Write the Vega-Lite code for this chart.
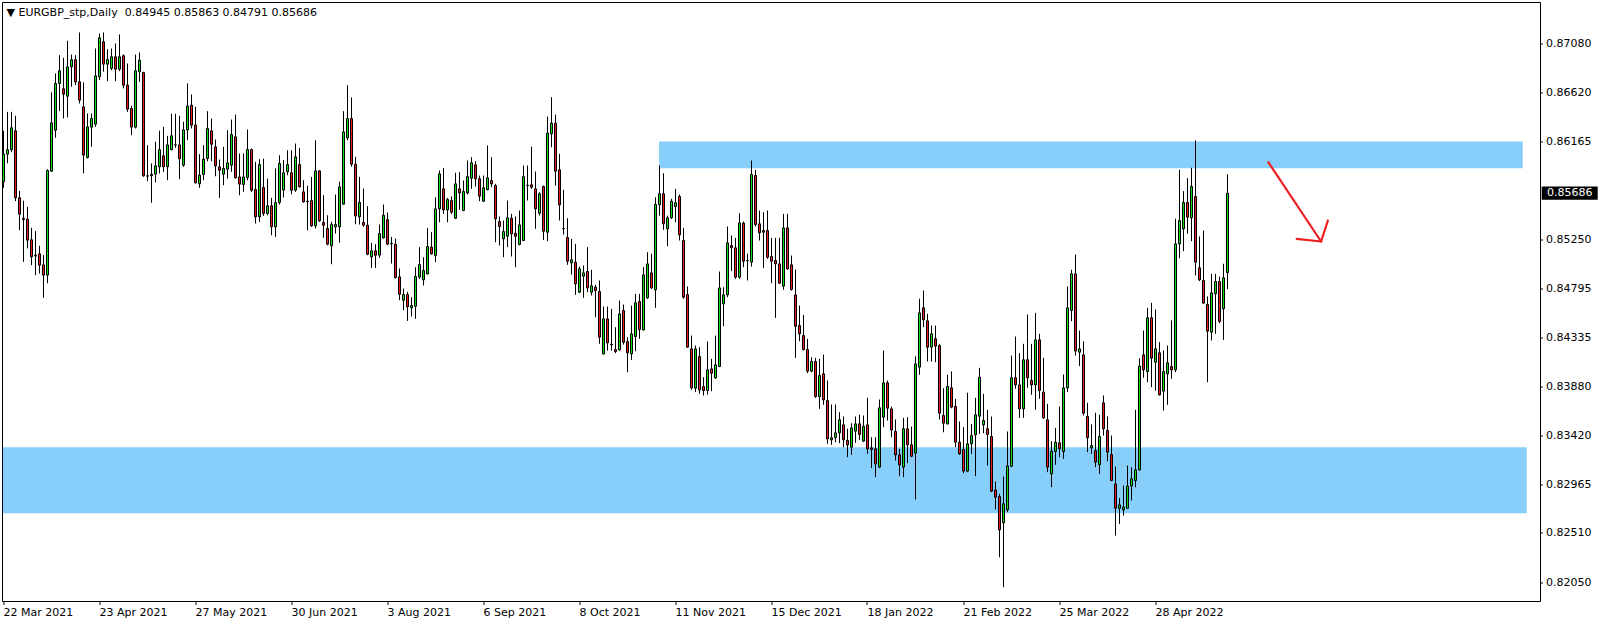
{
"$schema":"https://vega.github.io/schema/vega-lite/v6.json",
"width":1538,"height":599,
"autosize":{"type":"none"},
"padding":{"left":2,"top":2,"right":64,"bottom":24},
"background":"white",
"title":{"text":"▼  EURGBP_stp,Daily \u00a00.84945 0.85863 0.84791 0.85686","anchor":"start","frame":"group","orient":"top","offset":-10,"dy":12,"baseline":"middle","dx":4.5,"font":"DejaVu Sans","fontSize":11,"fontWeight":"normal","color":"black"},
"config":{"view":{"stroke":"black","strokeWidth":1},"axis":{"grid":false,"domain":false},"scale":{"continuousPadding":0}},
"datasets":{
"zones":[{"x":-0.125,"x2":380.8,"y":0.83315,"y2":0.827},{"x":163.9,"x2":379.8,"y":0.86168,"y2":0.85919}],
"arrow":[{"g":"s","k":0,"i":316.2,"p":0.85975},{"g":"s","k":1,"i":329.4,"p":0.85235},{"g":"h","k":0,"i":323.3,"p":0.85260},{"g":"h","k":1,"i":329.4,"p":0.85235},{"g":"h","k":2,"i":331.1,"p":0.85431}],
"tag":[{"x":384.55,"x2":398.55,"y":0.85748,"y2":0.85624,"tx":385.9,"p":0.85686}],
"candles":[
{"i":0,"o":0.85792,"h":0.86268,"l":0.85736,"c":0.86050},
{"i":1,"o":0.86050,"h":0.86445,"l":0.85966,"c":0.86091},
{"i":2,"o":0.86091,"h":0.86445,"l":0.86069,"c":0.86296},
{"i":3,"o":0.86268,"h":0.86408,"l":0.85612,"c":0.85643},
{"i":4,"o":0.85643,"h":0.85708,"l":0.85341,"c":0.85490},
{"i":5,"o":0.85450,"h":0.85615,"l":0.85045,"c":0.85440},
{"i":6,"o":0.85444,"h":0.85559,"l":0.85170,"c":0.85248},
{"i":7,"o":0.85251,"h":0.85363,"l":0.85014,"c":0.85092},
{"i":8,"o":0.85100,"h":0.85332,"l":0.84921,"c":0.85108},
{"i":9,"o":0.85120,"h":0.85195,"l":0.84936,"c":0.85014},
{"i":10,"o":0.85017,"h":0.85108,"l":0.84709,"c":0.84921},
{"i":11,"o":0.84921,"h":0.85907,"l":0.84846,"c":0.85898},
{"i":12,"o":0.85891,"h":0.86626,"l":0.85885,"c":0.86343},
{"i":13,"o":0.86274,"h":0.86803,"l":0.86203,"c":0.86710},
{"i":14,"o":0.86710,"h":0.86974,"l":0.86451,"c":0.86828},
{"i":15,"o":0.86660,"h":0.86949,"l":0.86383,"c":0.86610},
{"i":16,"o":0.86591,"h":0.87108,"l":0.86392,"c":0.86865},
{"i":17,"o":0.86865,"h":0.86980,"l":0.86679,"c":0.86931},
{"i":18,"o":0.86931,"h":0.86974,"l":0.86694,"c":0.86725},
{"i":19,"o":0.86725,"h":0.87186,"l":0.86523,"c":0.86554},
{"i":20,"o":0.86492,"h":0.86719,"l":0.85870,"c":0.86041},
{"i":21,"o":0.86019,"h":0.86430,"l":0.86010,"c":0.86305},
{"i":22,"o":0.86302,"h":0.86430,"l":0.86119,"c":0.86383},
{"i":23,"o":0.86330,"h":0.87036,"l":0.86305,"c":0.86781},
{"i":24,"o":0.86772,"h":0.87176,"l":0.86741,"c":0.87136},
{"i":25,"o":0.87099,"h":0.87186,"l":0.86819,"c":0.86890},
{"i":26,"o":0.86890,"h":0.87030,"l":0.86731,"c":0.86934},
{"i":27,"o":0.86850,"h":0.87036,"l":0.86834,"c":0.86959},
{"i":28,"o":0.86959,"h":0.87083,"l":0.86731,"c":0.86843},
{"i":29,"o":0.86843,"h":0.87167,"l":0.86825,"c":0.86959},
{"i":30,"o":0.86968,"h":0.86980,"l":0.86663,"c":0.86694},
{"i":31,"o":0.86694,"h":0.86896,"l":0.86445,"c":0.86470},
{"i":32,"o":0.86476,"h":0.86501,"l":0.86227,"c":0.86302},
{"i":33,"o":0.86302,"h":0.86980,"l":0.86290,"c":0.86828},
{"i":34,"o":0.86819,"h":0.86999,"l":0.86725,"c":0.86927},
{"i":35,"o":0.86812,"h":0.86819,"l":0.85839,"c":0.85848},
{"i":36,"o":0.85848,"h":0.86134,"l":0.85798,"c":0.85845},
{"i":37,"o":0.85850,"h":0.85963,"l":0.85596,"c":0.85863},
{"i":38,"o":0.85863,"h":0.86165,"l":0.85786,"c":0.85941},
{"i":39,"o":0.85932,"h":0.86268,"l":0.85870,"c":0.86091},
{"i":40,"o":0.86035,"h":0.86305,"l":0.85885,"c":0.85932},
{"i":41,"o":0.85932,"h":0.86221,"l":0.85807,"c":0.86137},
{"i":42,"o":0.86091,"h":0.86427,"l":0.86088,"c":0.86221},
{"i":43,"o":0.86135,"h":0.86427,"l":0.86109,"c":0.86137},
{"i":44,"o":0.86137,"h":0.86408,"l":0.85817,"c":0.86007},
{"i":45,"o":0.85947,"h":0.86352,"l":0.85932,"c":0.86277},
{"i":46,"o":0.86277,"h":0.86710,"l":0.86181,"c":0.86498},
{"i":47,"o":0.86507,"h":0.86607,"l":0.86290,"c":0.86321},
{"i":48,"o":0.86321,"h":0.86492,"l":0.85776,"c":0.85783},
{"i":49,"o":0.85773,"h":0.86050,"l":0.85736,"c":0.85854},
{"i":50,"o":0.85860,"h":0.86134,"l":0.85807,"c":0.86003},
{"i":51,"o":0.86009,"h":0.86451,"l":0.85984,"c":0.86289},
{"i":52,"o":0.86268,"h":0.86383,"l":0.85984,"c":0.86143},
{"i":53,"o":0.86118,"h":0.86187,"l":0.85844,"c":0.85941},
{"i":54,"o":0.85932,"h":0.86000,"l":0.85642,"c":0.85900},
{"i":55,"o":0.85863,"h":0.86118,"l":0.85760,"c":0.85916},
{"i":56,"o":0.85910,"h":0.86274,"l":0.85823,"c":0.85969},
{"i":57,"o":0.85947,"h":0.86373,"l":0.85885,"c":0.86233},
{"i":58,"o":0.86212,"h":0.86420,"l":0.85823,"c":0.85829},
{"i":59,"o":0.85838,"h":0.86056,"l":0.85667,"c":0.85770},
{"i":60,"o":0.85767,"h":0.86056,"l":0.85698,"c":0.85838},
{"i":61,"o":0.85832,"h":0.86280,"l":0.85807,"c":0.86093},
{"i":62,"o":0.86093,"h":0.86103,"l":0.85698,"c":0.85714},
{"i":63,"o":0.85720,"h":0.85978,"l":0.85403,"c":0.85465},
{"i":64,"o":0.85465,"h":0.86003,"l":0.85418,"c":0.85953},
{"i":65,"o":0.85739,"h":0.86009,"l":0.85474,"c":0.85496},
{"i":66,"o":0.85496,"h":0.85823,"l":0.85480,"c":0.85568},
{"i":67,"o":0.85568,"h":0.85642,"l":0.85294,"c":0.85372},
{"i":68,"o":0.85372,"h":0.85916,"l":0.85278,"c":0.85599},
{"i":69,"o":0.85599,"h":0.86040,"l":0.85580,"c":0.85963},
{"i":70,"o":0.85714,"h":0.85994,"l":0.85645,"c":0.85876},
{"i":71,"o":0.85885,"h":0.86087,"l":0.85854,"c":0.85953},
{"i":72,"o":0.85876,"h":0.86087,"l":0.85676,"c":0.85714},
{"i":73,"o":0.85714,"h":0.86149,"l":0.85698,"c":0.86025},
{"i":74,"o":0.85953,"h":0.86109,"l":0.85739,"c":0.85745},
{"i":75,"o":0.85698,"h":0.85807,"l":0.85599,"c":0.85605},
{"i":76,"o":0.85608,"h":0.85754,"l":0.85340,"c":0.85611},
{"i":77,"o":0.85617,"h":0.85838,"l":0.85372,"c":0.85381},
{"i":78,"o":0.85381,"h":0.86180,"l":0.85356,"c":0.85894},
{"i":79,"o":0.85894,"h":0.85900,"l":0.85418,"c":0.85428},
{"i":80,"o":0.85412,"h":0.85667,"l":0.85269,"c":0.85387},
{"i":81,"o":0.85356,"h":0.85480,"l":0.85200,"c":0.85210},
{"i":82,"o":0.85194,"h":0.85418,"l":0.85023,"c":0.85393},
{"i":83,"o":0.85372,"h":0.85673,"l":0.85309,"c":0.85393},
{"i":84,"o":0.85372,"h":0.85792,"l":0.85225,"c":0.85745},
{"i":85,"o":0.85583,"h":0.86451,"l":0.85580,"c":0.86258},
{"i":86,"o":0.86202,"h":0.86694,"l":0.86180,"c":0.86383},
{"i":87,"o":0.86383,"h":0.86579,"l":0.85932,"c":0.85956},
{"i":88,"o":0.85956,"h":0.86025,"l":0.85396,"c":0.85474},
{"i":89,"o":0.85465,"h":0.85838,"l":0.85393,"c":0.85599},
{"i":90,"o":0.85412,"h":0.85729,"l":0.85372,"c":0.85387},
{"i":91,"o":0.85387,"h":0.85564,"l":0.85107,"c":0.85116},
{"i":92,"o":0.85092,"h":0.85222,"l":0.84989,"c":0.85148},
{"i":93,"o":0.85148,"h":0.85210,"l":0.84989,"c":0.85107},
{"i":94,"o":0.85107,"h":0.85393,"l":0.85082,"c":0.85309},
{"i":95,"o":0.85269,"h":0.85580,"l":0.85263,"c":0.85480},
{"i":96,"o":0.85440,"h":0.85505,"l":0.85200,"c":0.85210},
{"i":97,"o":0.85213,"h":0.85278,"l":0.85029,"c":0.85216},
{"i":98,"o":0.85210,"h":0.85263,"l":0.84889,"c":0.84899},
{"i":99,"o":0.84905,"h":0.84983,"l":0.84687,"c":0.84743},
{"i":100,"o":0.84687,"h":0.84796,"l":0.84594,"c":0.84740},
{"i":101,"o":0.84740,"h":0.84765,"l":0.84494,"c":0.84626},
{"i":102,"o":0.84616,"h":0.84715,"l":0.84535,"c":0.84637},
{"i":103,"o":0.84631,"h":0.84995,"l":0.84513,"c":0.84908},
{"i":104,"o":0.84902,"h":0.85182,"l":0.84886,"c":0.85020},
{"i":105,"o":0.84877,"h":0.85088,"l":0.84824,"c":0.84964},
{"i":106,"o":0.84933,"h":0.85362,"l":0.84927,"c":0.85188},
{"i":107,"o":0.85182,"h":0.85322,"l":0.85113,"c":0.85120},
{"i":108,"o":0.85104,"h":0.85648,"l":0.85042,"c":0.85540},
{"i":109,"o":0.85540,"h":0.85897,"l":0.85415,"c":0.85866},
{"i":110,"o":0.85726,"h":0.85922,"l":0.85493,"c":0.85530},
{"i":111,"o":0.85530,"h":0.85642,"l":0.85415,"c":0.85627},
{"i":112,"o":0.85617,"h":0.85655,"l":0.85493,"c":0.85508},
{"i":113,"o":0.85452,"h":0.85876,"l":0.85446,"c":0.85773},
{"i":114,"o":0.85726,"h":0.85882,"l":0.85530,"c":0.85689},
{"i":115,"o":0.85524,"h":0.85804,"l":0.85518,"c":0.85701},
{"i":116,"o":0.85689,"h":0.85991,"l":0.85673,"c":0.85841},
{"i":117,"o":0.85826,"h":0.86022,"l":0.85726,"c":0.85969},
{"i":118,"o":0.85950,"h":0.85984,"l":0.85748,"c":0.85820},
{"i":119,"o":0.85820,"h":0.85851,"l":0.85611,"c":0.85658},
{"i":120,"o":0.85611,"h":0.85851,"l":0.85602,"c":0.85736},
{"i":121,"o":0.85720,"h":0.86131,"l":0.85711,"c":0.85829},
{"i":122,"o":0.85804,"h":0.86022,"l":0.85742,"c":0.85773},
{"i":123,"o":0.85757,"h":0.85773,"l":0.85228,"c":0.85446},
{"i":124,"o":0.85421,"h":0.85468,"l":0.85197,"c":0.85375},
{"i":125,"o":0.85260,"h":0.85431,"l":0.85088,"c":0.85328},
{"i":126,"o":0.85284,"h":0.85617,"l":0.85182,"c":0.85456},
{"i":127,"o":0.85452,"h":0.85493,"l":0.85095,"c":0.85306},
{"i":128,"o":0.85312,"h":0.85468,"l":0.84995,"c":0.85284},
{"i":129,"o":0.85207,"h":0.85524,"l":0.85200,"c":0.85390},
{"i":130,"o":0.85244,"h":0.85944,"l":0.85238,"c":0.85841},
{"i":131,"o":0.85760,"h":0.85944,"l":0.85617,"c":0.85757},
{"i":132,"o":0.85764,"h":0.86121,"l":0.85726,"c":0.85742},
{"i":133,"o":0.85726,"h":0.85888,"l":0.85353,"c":0.85540},
{"i":134,"o":0.85499,"h":0.85695,"l":0.85477,"c":0.85680},
{"i":135,"o":0.85748,"h":0.85757,"l":0.85250,"c":0.85331},
{"i":136,"o":0.85322,"h":0.86401,"l":0.85238,"c":0.86246},
{"i":137,"o":0.86240,"h":0.86582,"l":0.86115,"c":0.86339},
{"i":138,"o":0.86339,"h":0.86420,"l":0.85757,"c":0.85891},
{"i":139,"o":0.85904,"h":0.86053,"l":0.85431,"c":0.85577},
{"i":140,"o":0.85355,"h":0.85717,"l":0.85300,"c":0.85353},
{"i":141,"o":0.85272,"h":0.85452,"l":0.85017,"c":0.85051},
{"i":142,"o":0.85036,"h":0.85260,"l":0.84927,"c":0.85064},
{"i":143,"o":0.85042,"h":0.85213,"l":0.84737,"c":0.84840},
{"i":144,"o":0.84762,"h":0.85001,"l":0.84753,"c":0.84980},
{"i":145,"o":0.84911,"h":0.85011,"l":0.84709,"c":0.84942},
{"i":146,"o":0.84955,"h":0.85182,"l":0.84762,"c":0.84802},
{"i":147,"o":0.84762,"h":0.84970,"l":0.84731,"c":0.84821},
{"i":148,"o":0.84809,"h":0.84830,"l":0.84529,"c":0.84777},
{"i":149,"o":0.84768,"h":0.84871,"l":0.84280,"c":0.84342},
{"i":150,"o":0.84186,"h":0.84628,"l":0.84180,"c":0.84513},
{"i":151,"o":0.84513,"h":0.84628,"l":0.84217,"c":0.84289},
{"i":152,"o":0.84275,"h":0.84606,"l":0.84217,"c":0.84270},
{"i":153,"o":0.84227,"h":0.84435,"l":0.84193,"c":0.84208},
{"i":154,"o":0.84224,"h":0.84684,"l":0.84217,"c":0.84560},
{"i":155,"o":0.84591,"h":0.84647,"l":0.84273,"c":0.84295},
{"i":156,"o":0.84301,"h":0.84342,"l":0.84015,"c":0.84196},
{"i":157,"o":0.84186,"h":0.84637,"l":0.84130,"c":0.84373},
{"i":158,"o":0.84348,"h":0.84746,"l":0.84211,"c":0.84662},
{"i":159,"o":0.84675,"h":0.84746,"l":0.84326,"c":0.84413},
{"i":160,"o":0.84410,"h":0.84995,"l":0.84404,"c":0.84924},
{"i":161,"o":0.84709,"h":0.85135,"l":0.84700,"c":0.85026},
{"i":162,"o":0.84942,"h":0.85120,"l":0.84793,"c":0.84802},
{"i":163,"o":0.84784,"h":0.85648,"l":0.84616,"c":0.85580},
{"i":164,"o":0.85577,"h":0.85944,"l":0.85477,"c":0.85680},
{"i":165,"o":0.85680,"h":0.85872,"l":0.85344,"c":0.85400},
{"i":166,"o":0.85353,"h":0.85477,"l":0.85191,"c":0.85456},
{"i":167,"o":0.85456,"h":0.85633,"l":0.85446,"c":0.85611},
{"i":168,"o":0.85561,"h":0.85726,"l":0.85415,"c":0.85596},
{"i":169,"o":0.85655,"h":0.85673,"l":0.85244,"c":0.85297},
{"i":170,"o":0.85244,"h":0.85362,"l":0.84700,"c":0.84715},
{"i":171,"o":0.84740,"h":0.84815,"l":0.84242,"c":0.84249},
{"i":172,"o":0.84233,"h":0.84357,"l":0.83850,"c":0.83869},
{"i":173,"o":0.83866,"h":0.84264,"l":0.83829,"c":0.84233},
{"i":174,"o":0.84161,"h":0.84249,"l":0.83813,"c":0.83850},
{"i":175,"o":0.83881,"h":0.83969,"l":0.83797,"c":0.83844},
{"i":176,"o":0.83844,"h":0.84301,"l":0.83807,"c":0.84037},
{"i":177,"o":0.84046,"h":0.84140,"l":0.83838,"c":0.84006},
{"i":178,"o":0.83962,"h":0.84357,"l":0.83953,"c":0.84084},
{"i":179,"o":0.84068,"h":0.84955,"l":0.84062,"c":0.84802},
{"i":180,"o":0.84653,"h":0.84808,"l":0.84444,"c":0.84737},
{"i":181,"o":0.84737,"h":0.85375,"l":0.84715,"c":0.85222},
{"i":182,"o":0.85197,"h":0.85291,"l":0.84958,"c":0.85176},
{"i":183,"o":0.85176,"h":0.85269,"l":0.84886,"c":0.84902},
{"i":184,"o":0.84902,"h":0.85499,"l":0.84886,"c":0.85409},
{"i":185,"o":0.85406,"h":0.85421,"l":0.84995,"c":0.85051},
{"i":186,"o":0.85055,"h":0.85120,"l":0.84871,"c":0.85057},
{"i":187,"o":0.85042,"h":0.85991,"l":0.85001,"c":0.85860},
{"i":188,"o":0.85851,"h":0.85904,"l":0.85375,"c":0.85393},
{"i":189,"o":0.85400,"h":0.85524,"l":0.85244,"c":0.85316},
{"i":190,"o":0.85337,"h":0.85508,"l":0.84986,"c":0.85322},
{"i":191,"o":0.85337,"h":0.85524,"l":0.85073,"c":0.85088},
{"i":192,"o":0.85095,"h":0.85269,"l":0.84846,"c":0.85051},
{"i":193,"o":0.85057,"h":0.85269,"l":0.84522,"c":0.85026},
{"i":194,"o":0.85026,"h":0.85269,"l":0.84840,"c":0.84846},
{"i":195,"o":0.84818,"h":0.85493,"l":0.84784,"c":0.85362},
{"i":196,"o":0.85362,"h":0.85493,"l":0.84970,"c":0.84980},
{"i":197,"o":0.85017,"h":0.85104,"l":0.84777,"c":0.84787},
{"i":198,"o":0.84737,"h":0.84973,"l":0.84149,"c":0.84444},
{"i":199,"o":0.84451,"h":0.84637,"l":0.84305,"c":0.84373},
{"i":200,"o":0.84357,"h":0.84550,"l":0.84217,"c":0.84227},
{"i":201,"o":0.84227,"h":0.84326,"l":0.84006,"c":0.84025},
{"i":202,"o":0.84025,"h":0.84155,"l":0.84015,"c":0.84115},
{"i":203,"o":0.84115,"h":0.84149,"l":0.83776,"c":0.83788},
{"i":204,"o":0.83788,"h":0.84140,"l":0.83673,"c":0.83984},
{"i":205,"o":0.84000,"h":0.84180,"l":0.83711,"c":0.83757},
{"i":206,"o":0.83751,"h":0.83938,"l":0.83347,"c":0.83393},
{"i":207,"o":0.83384,"h":0.83714,"l":0.83337,"c":0.83403},
{"i":208,"o":0.83403,"h":0.83714,"l":0.83362,"c":0.83449},
{"i":209,"o":0.83449,"h":0.83642,"l":0.83353,"c":0.83571},
{"i":210,"o":0.83524,"h":0.83602,"l":0.83315,"c":0.83384},
{"i":211,"o":0.83378,"h":0.83487,"l":0.83222,"c":0.83337},
{"i":212,"o":0.83315,"h":0.83539,"l":0.83244,"c":0.83496},
{"i":213,"o":0.83465,"h":0.83602,"l":0.83356,"c":0.83533},
{"i":214,"o":0.83533,"h":0.83620,"l":0.83384,"c":0.83434},
{"i":215,"o":0.83372,"h":0.83611,"l":0.83362,"c":0.83511},
{"i":216,"o":0.83524,"h":0.83776,"l":0.83253,"c":0.83300},
{"i":217,"o":0.83309,"h":0.83409,"l":0.83120,"c":0.83294},
{"i":218,"o":0.83300,"h":0.83409,"l":0.83036,"c":0.83160},
{"i":219,"o":0.83129,"h":0.83760,"l":0.83123,"c":0.83683},
{"i":220,"o":0.83595,"h":0.84218,"l":0.83502,"c":0.83916},
{"i":221,"o":0.83916,"h":0.83938,"l":0.83564,"c":0.83679},
{"i":222,"o":0.83673,"h":0.83695,"l":0.83409,"c":0.83477},
{"i":223,"o":0.83462,"h":0.83574,"l":0.83191,"c":0.83244},
{"i":224,"o":0.83244,"h":0.83300,"l":0.83045,"c":0.83151},
{"i":225,"o":0.83129,"h":0.83589,"l":0.83036,"c":0.83487},
{"i":226,"o":0.83487,"h":0.83595,"l":0.83166,"c":0.83337},
{"i":227,"o":0.83337,"h":0.83508,"l":0.83222,"c":0.83231},
{"i":228,"o":0.83260,"h":0.84162,"l":0.82827,"c":0.84093},
{"i":229,"o":0.84062,"h":0.84700,"l":0.83991,"c":0.84569},
{"i":230,"o":0.84616,"h":0.84778,"l":0.84435,"c":0.84504},
{"i":231,"o":0.84495,"h":0.84560,"l":0.84115,"c":0.84249},
{"i":232,"o":0.84249,"h":0.84451,"l":0.84115,"c":0.84373},
{"i":233,"o":0.84327,"h":0.84451,"l":0.84109,"c":0.84258},
{"i":234,"o":0.84264,"h":0.84280,"l":0.83574,"c":0.83633},
{"i":235,"o":0.83611,"h":0.83866,"l":0.83455,"c":0.83539},
{"i":236,"o":0.83533,"h":0.83991,"l":0.83527,"c":0.83882},
{"i":237,"o":0.83869,"h":0.84022,"l":0.83679,"c":0.83689},
{"i":238,"o":0.83695,"h":0.83767,"l":0.83315,"c":0.83362},
{"i":239,"o":0.83362,"h":0.83555,"l":0.83244,"c":0.83253},
{"i":240,"o":0.83294,"h":0.83502,"l":0.83073,"c":0.83092},
{"i":241,"o":0.83092,"h":0.83823,"l":0.83082,"c":0.83347},
{"i":242,"o":0.83347,"h":0.83533,"l":0.83253,"c":0.83424},
{"i":243,"o":0.83431,"h":0.83776,"l":0.83045,"c":0.83617},
{"i":244,"o":0.83605,"h":0.84056,"l":0.83440,"c":0.83969},
{"i":245,"o":0.83524,"h":0.83813,"l":0.83446,"c":0.83564},
{"i":246,"o":0.83487,"h":0.83664,"l":0.83144,"c":0.83434},
{"i":247,"o":0.83415,"h":0.83602,"l":0.82896,"c":0.82905},
{"i":248,"o":0.82917,"h":0.82995,"l":0.82734,"c":0.82849},
{"i":249,"o":0.82855,"h":0.82880,"l":0.82289,"c":0.82544},
{"i":250,"o":0.82609,"h":0.83042,"l":0.82009,"c":0.82787},
{"i":251,"o":0.82731,"h":0.83462,"l":0.82709,"c":0.83141},
{"i":252,"o":0.83138,"h":0.84171,"l":0.83129,"c":0.83963},
{"i":253,"o":0.83963,"h":0.84348,"l":0.83860,"c":0.83897},
{"i":254,"o":0.83897,"h":0.84193,"l":0.83589,"c":0.83673},
{"i":255,"o":0.83673,"h":0.84280,"l":0.83589,"c":0.84131},
{"i":256,"o":0.84131,"h":0.84554,"l":0.83869,"c":0.83963},
{"i":257,"o":0.83938,"h":0.84280,"l":0.83804,"c":0.83897},
{"i":258,"o":0.83897,"h":0.84569,"l":0.83664,"c":0.84317},
{"i":259,"o":0.84317,"h":0.84373,"l":0.83767,"c":0.83844},
{"i":260,"o":0.83829,"h":0.84149,"l":0.83580,"c":0.83589},
{"i":261,"o":0.83571,"h":0.83720,"l":0.83082,"c":0.83129},
{"i":262,"o":0.83067,"h":0.83372,"l":0.82942,"c":0.83278},
{"i":263,"o":0.83275,"h":0.83496,"l":0.83151,"c":0.83362},
{"i":264,"o":0.83356,"h":0.83695,"l":0.83222,"c":0.83300},
{"i":265,"o":0.83275,"h":0.83994,"l":0.83207,"c":0.83869},
{"i":266,"o":0.83869,"h":0.84815,"l":0.83829,"c":0.84616},
{"i":267,"o":0.84591,"h":0.84971,"l":0.84492,"c":0.84933},
{"i":268,"o":0.84933,"h":0.85114,"l":0.84171,"c":0.84212},
{"i":269,"o":0.84202,"h":0.84404,"l":0.84072,"c":0.84233},
{"i":270,"o":0.84177,"h":0.84302,"l":0.83611,"c":0.83633},
{"i":271,"o":0.83602,"h":0.83729,"l":0.83269,"c":0.83403},
{"i":272,"o":0.83309,"h":0.83527,"l":0.83253,"c":0.83331},
{"i":273,"o":0.83284,"h":0.83636,"l":0.83129,"c":0.83176},
{"i":274,"o":0.83151,"h":0.83617,"l":0.83067,"c":0.83415},
{"i":275,"o":0.83729,"h":0.83798,"l":0.83424,"c":0.83487},
{"i":276,"o":0.83471,"h":0.83602,"l":0.83185,"c":0.83269},
{"i":277,"o":0.83247,"h":0.83424,"l":0.82998,"c":0.83004},
{"i":278,"o":0.82973,"h":0.83135,"l":0.82491,"c":0.82746},
{"i":279,"o":0.82746,"h":0.82840,"l":0.82600,"c":0.82777},
{"i":280,"o":0.82731,"h":0.82958,"l":0.82678,"c":0.82756},
{"i":281,"o":0.82746,"h":0.83144,"l":0.82746,"c":0.82952},
{"i":282,"o":0.82952,"h":0.83129,"l":0.82818,"c":0.83020},
{"i":283,"o":0.83004,"h":0.83664,"l":0.82942,"c":0.83104},
{"i":284,"o":0.83104,"h":0.84146,"l":0.83098,"c":0.84072},
{"i":285,"o":0.84177,"h":0.84404,"l":0.83963,"c":0.84037},
{"i":286,"o":0.84022,"h":0.84616,"l":0.83922,"c":0.84523},
{"i":287,"o":0.84523,"h":0.84663,"l":0.83876,"c":0.84146},
{"i":288,"o":0.84109,"h":0.84600,"l":0.83844,"c":0.84233},
{"i":289,"o":0.84196,"h":0.84296,"l":0.83798,"c":0.83804},
{"i":290,"o":0.83838,"h":0.84218,"l":0.83658,"c":0.84022},
{"i":291,"o":0.84000,"h":0.84264,"l":0.83711,"c":0.84103},
{"i":292,"o":0.84068,"h":0.84498,"l":0.83953,"c":0.84037},
{"i":293,"o":0.84037,"h":0.85447,"l":0.84016,"c":0.85213},
{"i":294,"o":0.85213,"h":0.85904,"l":0.85079,"c":0.85431},
{"i":295,"o":0.85353,"h":0.85705,"l":0.85145,"c":0.85599},
{"i":296,"o":0.85599,"h":0.85826,"l":0.85307,"c":0.85462},
{"i":297,"o":0.85456,"h":0.85923,"l":0.85238,"c":0.85748},
{"i":298,"o":0.85655,"h":0.86178,"l":0.84918,"c":0.85042},
{"i":299,"o":0.84989,"h":0.85282,"l":0.84865,"c":0.84877},
{"i":300,"o":0.84871,"h":0.85338,"l":0.84653,"c":0.84660},
{"i":301,"o":0.84647,"h":0.84722,"l":0.83922,"c":0.84398},
{"i":302,"o":0.84389,"h":0.84933,"l":0.84311,"c":0.84756},
{"i":303,"o":0.84747,"h":0.84933,"l":0.84373,"c":0.84862},
{"i":304,"o":0.84862,"h":0.84908,"l":0.84473,"c":0.84488},
{"i":305,"o":0.84607,"h":0.85027,"l":0.84317,"c":0.84896},
{"i":306,"o":0.84945,"h":0.85863,"l":0.84791,"c":0.85686}
]},
"layer":[
{"data":{"name":"zones"},"mark":{"type":"rect","fill":"#87CEFA","stroke":null},
 "encoding":{
  "x":{"field":"x","type":"quantitative","scale":{"domain":[-0.375,384.125],"nice":false,"zero":false,"padding":0},
   "axis":{"values":[0,24,48,72,96,120,144,168,192,216,240,264,288],"labelExpr":"['22 Mar 2021','23 Apr 2021','27 May 2021','30 Jun 2021','3 Aug 2021','6 Sep 2021','8 Oct 2021','11 Nov 2021','15 Dec 2021','18 Jan 2022','21 Feb 2022','25 Mar 2022','28 Apr 2022'][round(datum.value/24)]","title":null,"translate":0,"tickSize":4,"tickColor":"black","labelAlign":"left","labelPadding":2,"labelFont":"DejaVu Sans","labelFontSize":11,"labelColor":"black","labelFlush":false,"labelOverlap":false,"labelBound":false,"domain":false,"grid":false}},
  "x2":{"field":"x2"},
  "y":{"field":"y","type":"quantitative","scale":{"domain":[0.8188,0.8747],"nice":false,"zero":false,"padding":0},
   "axis":{"orient":"right","values":[0.8205,0.8251,0.82965,0.8342,0.8388,0.84335,0.84795,0.8525,0.86165,0.8662,0.8708],"format":".5f","title":null,"translate":0,"tickSize":3,"tickColor":"black","labelPadding":3,"labelFont":"DejaVu Sans","labelFontSize":11,"labelColor":"black","labelOverlap":false,"labelFlush":false,"labelBound":false,"domain":false,"grid":false}},
  "y2":{"field":"y2"}}},
{"data":{"name":"candles"},"mark":{"type":"rule","color":"black","strokeWidth":1},
 "encoding":{
  "x":{"field":"i","type":"quantitative","scale":{"domain":[-0.375,384.125],"nice":false,"zero":false,"padding":0},
   "axis":{"values":[0,24,48,72,96,120,144,168,192,216,240,264,288],"labelExpr":"['22 Mar 2021','23 Apr 2021','27 May 2021','30 Jun 2021','3 Aug 2021','6 Sep 2021','8 Oct 2021','11 Nov 2021','15 Dec 2021','18 Jan 2022','21 Feb 2022','25 Mar 2022','28 Apr 2022'][round(datum.value/24)]","title":null,"translate":0,"tickSize":4,"tickColor":"black","labelAlign":"left","labelPadding":2,"labelFont":"DejaVu Sans","labelFontSize":11,"labelColor":"black","labelFlush":false,"labelOverlap":false,"labelBound":false,"domain":false,"grid":false}},
  "y":{"field":"l","type":"quantitative","scale":{"domain":[0.8188,0.8747],"nice":false,"zero":false,"padding":0},
   "axis":{"orient":"right","values":[0.8205,0.8251,0.82965,0.8342,0.8388,0.84335,0.84795,0.8525,0.86165,0.8662,0.8708],"format":".5f","title":null,"translate":0,"tickSize":3,"tickColor":"black","labelPadding":3,"labelFont":"DejaVu Sans","labelFontSize":11,"labelColor":"black","labelOverlap":false,"labelFlush":false,"labelBound":false,"domain":false,"grid":false}},
  "y2":{"field":"h"}}},
{"data":{"name":"candles"},"mark":{"type":"bar","width":2,"stroke":"black","strokeWidth":1},
 "encoding":{
  "x":{"field":"i","type":"quantitative","scale":{"domain":[-0.375,384.125],"nice":false,"zero":false,"padding":0},
   "axis":{"values":[0,24,48,72,96,120,144,168,192,216,240,264,288],"labelExpr":"['22 Mar 2021','23 Apr 2021','27 May 2021','30 Jun 2021','3 Aug 2021','6 Sep 2021','8 Oct 2021','11 Nov 2021','15 Dec 2021','18 Jan 2022','21 Feb 2022','25 Mar 2022','28 Apr 2022'][round(datum.value/24)]","title":null,"translate":0,"tickSize":4,"tickColor":"black","labelAlign":"left","labelPadding":2,"labelFont":"DejaVu Sans","labelFontSize":11,"labelColor":"black","labelFlush":false,"labelOverlap":false,"labelBound":false,"domain":false,"grid":false}},
  "y":{"field":"o","type":"quantitative","scale":{"domain":[0.8188,0.8747],"nice":false,"zero":false,"padding":0},
   "axis":{"orient":"right","values":[0.8205,0.8251,0.82965,0.8342,0.8388,0.84335,0.84795,0.8525,0.86165,0.8662,0.8708],"format":".5f","title":null,"translate":0,"tickSize":3,"tickColor":"black","labelPadding":3,"labelFont":"DejaVu Sans","labelFontSize":11,"labelColor":"black","labelOverlap":false,"labelFlush":false,"labelBound":false,"domain":false,"grid":false}},
  "y2":{"field":"c"},
  "fill":{"condition":{"test":"datum.c >= datum.o","value":"#12dc12"},"value":"#ea1c1c"}}},
{"data":{"name":"arrow"},"mark":{"type":"line","color":"#f01e1e","strokeWidth":2.2,"strokeCap":"round","strokeJoin":"round"},
 "encoding":{
  "x":{"field":"i","type":"quantitative","scale":{"domain":[-0.375,384.125],"nice":false,"zero":false,"padding":0},
   "axis":{"values":[0,24,48,72,96,120,144,168,192,216,240,264,288],"labelExpr":"['22 Mar 2021','23 Apr 2021','27 May 2021','30 Jun 2021','3 Aug 2021','6 Sep 2021','8 Oct 2021','11 Nov 2021','15 Dec 2021','18 Jan 2022','21 Feb 2022','25 Mar 2022','28 Apr 2022'][round(datum.value/24)]","title":null,"translate":0,"tickSize":4,"tickColor":"black","labelAlign":"left","labelPadding":2,"labelFont":"DejaVu Sans","labelFontSize":11,"labelColor":"black","labelFlush":false,"labelOverlap":false,"labelBound":false,"domain":false,"grid":false}},
  "y":{"field":"p","type":"quantitative","scale":{"domain":[0.8188,0.8747],"nice":false,"zero":false,"padding":0},
   "axis":{"orient":"right","values":[0.8205,0.8251,0.82965,0.8342,0.8388,0.84335,0.84795,0.8525,0.86165,0.8662,0.8708],"format":".5f","title":null,"translate":0,"tickSize":3,"tickColor":"black","labelPadding":3,"labelFont":"DejaVu Sans","labelFontSize":11,"labelColor":"black","labelOverlap":false,"labelFlush":false,"labelBound":false,"domain":false,"grid":false}},
  "detail":{"field":"g"},
  "order":{"field":"k","type":"quantitative"}}},
{"data":{"name":"tag"},"mark":{"type":"rect","fill":"black","clip":false},
 "encoding":{
  "x":{"field":"x","type":"quantitative","scale":{"domain":[-0.375,384.125],"nice":false,"zero":false,"padding":0},
   "axis":{"values":[0,24,48,72,96,120,144,168,192,216,240,264,288],"labelExpr":"['22 Mar 2021','23 Apr 2021','27 May 2021','30 Jun 2021','3 Aug 2021','6 Sep 2021','8 Oct 2021','11 Nov 2021','15 Dec 2021','18 Jan 2022','21 Feb 2022','25 Mar 2022','28 Apr 2022'][round(datum.value/24)]","title":null,"translate":0,"tickSize":4,"tickColor":"black","labelAlign":"left","labelPadding":2,"labelFont":"DejaVu Sans","labelFontSize":11,"labelColor":"black","labelFlush":false,"labelOverlap":false,"labelBound":false,"domain":false,"grid":false}},
  "x2":{"field":"x2"},
  "y":{"field":"y","type":"quantitative","scale":{"domain":[0.8188,0.8747],"nice":false,"zero":false,"padding":0},
   "axis":{"orient":"right","values":[0.8205,0.8251,0.82965,0.8342,0.8388,0.84335,0.84795,0.8525,0.86165,0.8662,0.8708],"format":".5f","title":null,"translate":0,"tickSize":3,"tickColor":"black","labelPadding":3,"labelFont":"DejaVu Sans","labelFontSize":11,"labelColor":"black","labelOverlap":false,"labelFlush":false,"labelBound":false,"domain":false,"grid":false}},
  "y2":{"field":"y2"}}},
{"data":{"name":"tag"},"mark":{"type":"text","color":"white","align":"left","baseline":"middle","font":"DejaVu Sans","fontSize":11,"clip":false},
 "encoding":{
  "x":{"field":"tx","type":"quantitative","scale":{"domain":[-0.375,384.125],"nice":false,"zero":false,"padding":0},
   "axis":{"values":[0,24,48,72,96,120,144,168,192,216,240,264,288],"labelExpr":"['22 Mar 2021','23 Apr 2021','27 May 2021','30 Jun 2021','3 Aug 2021','6 Sep 2021','8 Oct 2021','11 Nov 2021','15 Dec 2021','18 Jan 2022','21 Feb 2022','25 Mar 2022','28 Apr 2022'][round(datum.value/24)]","title":null,"translate":0,"tickSize":4,"tickColor":"black","labelAlign":"left","labelPadding":2,"labelFont":"DejaVu Sans","labelFontSize":11,"labelColor":"black","labelFlush":false,"labelOverlap":false,"labelBound":false,"domain":false,"grid":false}},
  "y":{"field":"p","type":"quantitative","scale":{"domain":[0.8188,0.8747],"nice":false,"zero":false,"padding":0},
   "axis":{"orient":"right","values":[0.8205,0.8251,0.82965,0.8342,0.8388,0.84335,0.84795,0.8525,0.86165,0.8662,0.8708],"format":".5f","title":null,"translate":0,"tickSize":3,"tickColor":"black","labelPadding":3,"labelFont":"DejaVu Sans","labelFontSize":11,"labelColor":"black","labelOverlap":false,"labelFlush":false,"labelBound":false,"domain":false,"grid":false}},
  "text":{"field":"p","type":"quantitative","format":".5f"}}}
]
}
